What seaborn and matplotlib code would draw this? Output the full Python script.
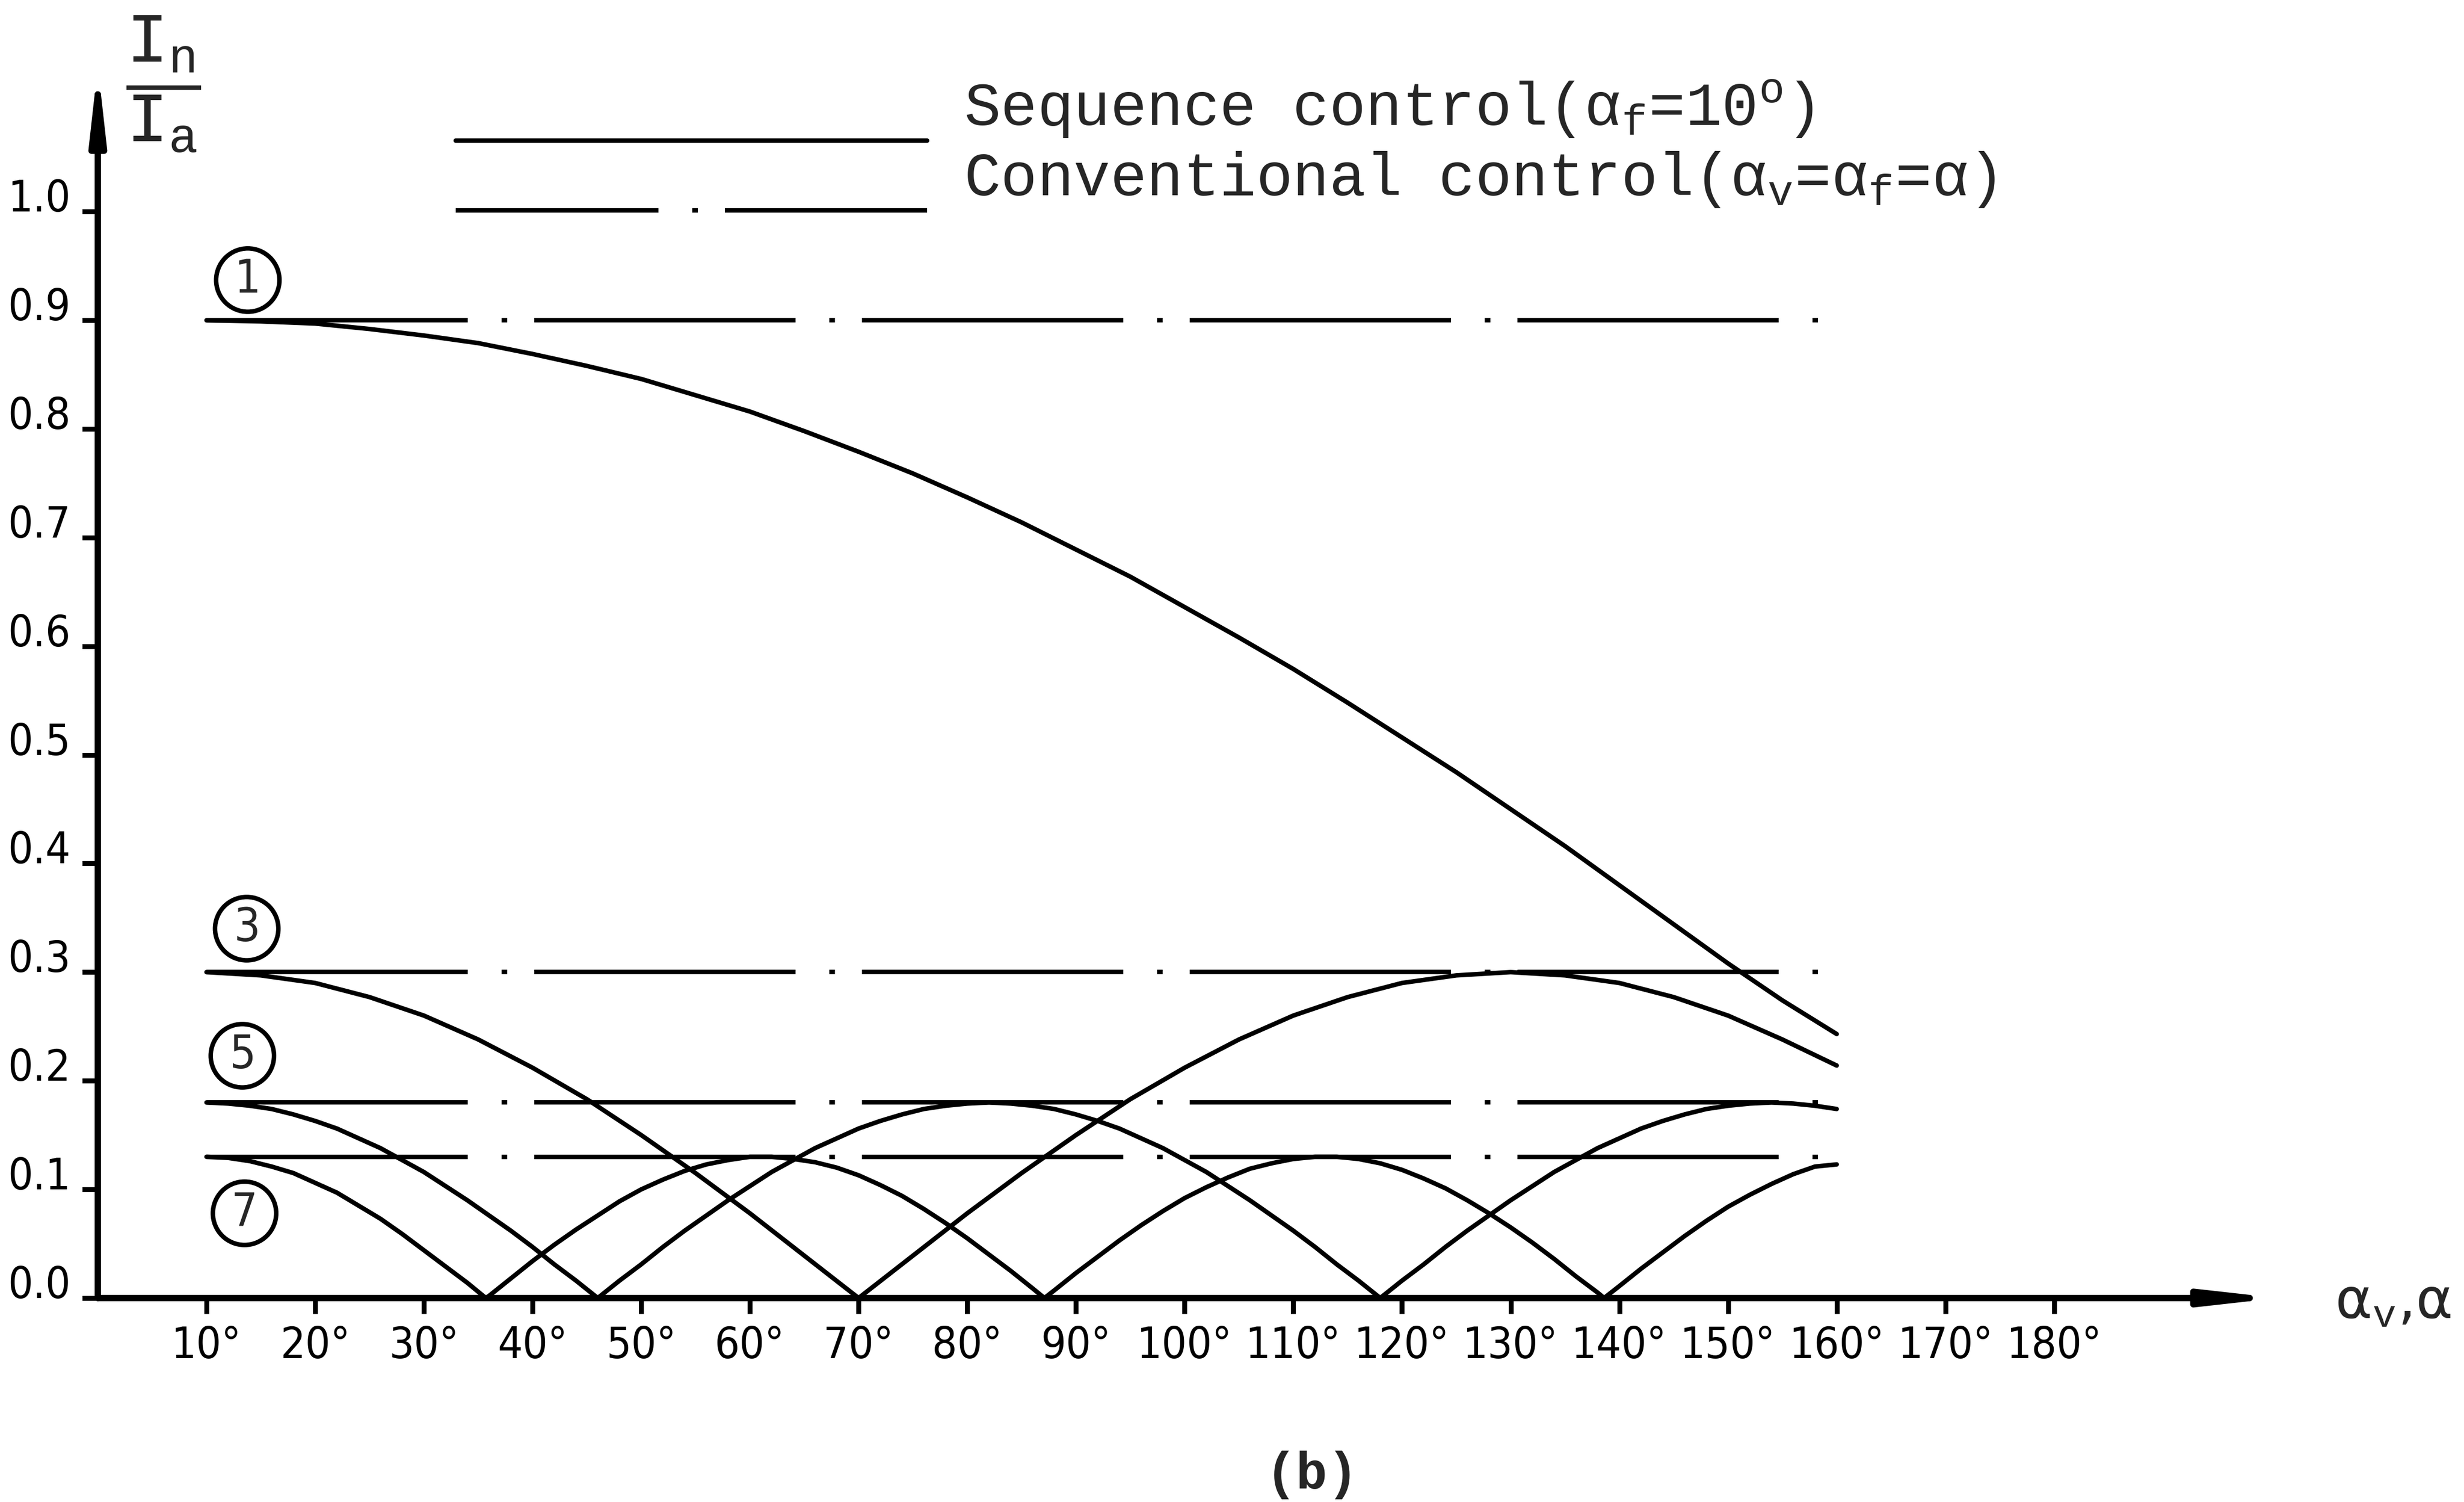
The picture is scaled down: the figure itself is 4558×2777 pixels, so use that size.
import matplotlib
matplotlib.use("Agg")
import matplotlib.pyplot as plt
import seaborn as sns
from matplotlib import font_manager as fm
from matplotlib.legend_handler import HandlerLine2D

# ---------------- data ----------------
alpha_5 = [10, 15, 20, 25, 30, 35, 40, 45, 50, 55, 60, 65, 70, 75, 80, 85, 90,
           95, 100, 105, 110, 115, 120, 125, 130, 135, 140, 145, 150, 155, 160]
seq_h1 = [0.900, 0.899, 0.897, 0.892, 0.886, 0.879, 0.869, 0.858, 0.846, 0.831,
          0.816, 0.798, 0.779, 0.759, 0.737, 0.714, 0.689, 0.664, 0.636, 0.608,
          0.579, 0.548, 0.516, 0.484, 0.450, 0.416, 0.380, 0.344, 0.308, 0.274,
          0.243]
seq_h3 = [0.300, 0.297, 0.290, 0.277, 0.260, 0.238, 0.212, 0.183, 0.150, 0.115,
          0.078, 0.039, 0.000, 0.039, 0.078, 0.115, 0.150, 0.183, 0.212, 0.238,
          0.260, 0.277, 0.290, 0.297, 0.300, 0.297, 0.290, 0.277, 0.260, 0.238,
          0.214]

alpha_2 = [10, 12, 14, 16, 18, 20, 22, 24, 26, 28, 30, 32, 34, 36, 38, 40, 42,
           44, 46, 48, 50, 52, 54, 56, 58, 60, 62, 64, 66, 68, 70, 72, 74, 76,
           78, 80, 82, 84, 86, 88, 90, 92, 94, 96, 98, 100, 102, 104, 106, 108,
           110, 112, 114, 116, 118, 120, 122, 124, 126, 128, 130, 132, 134, 136,
           138, 140, 142, 144, 146, 148, 150, 152, 154, 156, 158, 160]
seq_h5 = [0.180, 0.179, 0.177, 0.174, 0.169, 0.163, 0.156, 0.147, 0.138, 0.127,
          0.116, 0.103, 0.090, 0.076, 0.062, 0.047, 0.031, 0.016, 0.000,
          0.016, 0.031, 0.047, 0.062, 0.076, 0.090, 0.103, 0.116, 0.127, 0.138,
          0.147, 0.156, 0.163, 0.169, 0.174, 0.177, 0.179, 0.180,
          0.179, 0.177, 0.174, 0.169, 0.163, 0.156, 0.147, 0.138, 0.127, 0.116,
          0.103, 0.090, 0.076, 0.062, 0.047, 0.031, 0.016, 0.000,
          0.016, 0.031, 0.047, 0.062, 0.076, 0.090, 0.103, 0.116, 0.127, 0.138,
          0.147, 0.156, 0.163, 0.169, 0.174, 0.177, 0.179, 0.180,
          0.179, 0.177, 0.174]

alpha_7 = [10, 12, 14, 16, 18, 20, 22, 24, 26, 28, 30, 32, 34, 35.7, 36, 38, 40,
           42, 44, 46, 48, 50, 52, 54, 56, 58, 60, 62, 64, 66, 68, 70, 72, 74,
           76, 78, 80, 82, 84, 86, 87.1, 88, 90, 92, 94, 96, 98, 100, 102, 104,
           106, 108, 110, 112, 114, 116, 118, 120, 122, 124, 126, 128, 130, 132,
           134, 136, 138, 138.6, 140, 142, 144, 146, 148, 150, 152, 154, 156,
           158, 160]
seq_h7 = [0.130, 0.129, 0.126, 0.121, 0.115, 0.106, 0.097, 0.085, 0.073, 0.059,
          0.044, 0.029, 0.014, 0.000, 0.002, 0.018, 0.034, 0.049, 0.063, 0.076,
          0.089, 0.100, 0.109, 0.117, 0.123, 0.127, 0.130, 0.130, 0.128, 0.125,
          0.120, 0.113, 0.104, 0.094, 0.082, 0.069, 0.055, 0.040, 0.025, 0.009,
          0.000, 0.007, 0.023, 0.038, 0.053, 0.067, 0.080, 0.092, 0.102, 0.111,
          0.119, 0.124, 0.128, 0.130, 0.130, 0.128, 0.124, 0.118, 0.110, 0.101,
          0.090, 0.078, 0.065, 0.051, 0.036, 0.020, 0.005, 0.000, 0.011, 0.027,
          0.042, 0.057, 0.071, 0.084, 0.095, 0.105, 0.114, 0.121, 0.123]

conv_alpha = [10, 158.3]
conv_levels = [0.90, 0.30, 0.18, 0.13]

harmonic_labels = ["1", "3", "5", "7"]
harmonic_label_x = [13.8, 13.7, 13.3, 13.5]
harmonic_label_y = [0.937, 0.340, 0.223, 0.078]

x_ticks = [10, 20, 30, 40, 50, 60, 70, 80, 90, 100, 110, 120, 130, 140, 150,
           160, 170, 180]
x_tick_labels = [f"{t}°" for t in x_ticks]
y_ticks = [0.0, 0.1, 0.2, 0.3, 0.4, 0.5, 0.6, 0.7, 0.8, 0.9, 1.0]
y_tick_labels = [f"{t:.1f}" for t in y_ticks]

legend_labels = ["Sequence control(α$_\\mathrm{f}$=10$^\\mathrm{o}$)",
                 "Conventional control(α$_\\mathrm{v}$=α$_\\mathrm{f}$=α)"]
x_label = "α$_\\mathrm{v}$,α"
y_label = r"$\dfrac{\mathrm{I_n}}{\mathrm{I_a}}$"
caption = "(b)"

# ---------------- style ----------------
sns.set_style("white")
plt.rcParams["font.family"] = ["DejaVu Sans"]
plt.rcParams["lines.scale_dashes"] = False
plt.rcParams["mathtext.fontset"] = "custom"
plt.rcParams["mathtext.rm"] = "Liberation Mono"
plt.rcParams["mathtext.it"] = "Liberation Mono:italic"
plt.rcParams["mathtext.bf"] = "Liberation Mono:bold"

fonts = fm.fontManager.ttflist
narrow = [f for f in fonts
          if ("Narrow" in f.name or "Condensed" in f.name
              or str(f.stretch) in ("condensed", "semi-condensed", "extra-condensed"))
          and "Mono" not in f.name and f.style == "normal"]
if narrow:
    nf = narrow[0]
    tick_font = dict(family=nf.name, stretch=nf.stretch)
    TS = 19.5
else:
    tick_font = dict(family="Liberation Sans")
    TS = 18
MONO = "Liberation Mono"

LW = 2.0
AXLW = 2.8
DASH = (116, 15, 2.5, 12)
DASHDOT = (0, DASH)

W, H, DPI = 4558, 2777, 300
fig = plt.figure(figsize=(W / DPI, H / DPI), dpi=DPI)
ax = fig.add_axes([0.0397, 0.1358, 0.8848, 0.8202])

# sequence control curves
for xs, ys in [(alpha_5, seq_h1), (alpha_5, seq_h3), (alpha_2, seq_h5), (alpha_7, seq_h7)]:
    sns.lineplot(x=xs, y=ys, ax=ax, color="k", lw=LW, estimator=None, sort=False)
seq_line = ax.lines[0]

# conventional control (dash-dot horizontal lines)
for lev in conv_levels:
    sns.lineplot(x=conv_alpha, y=[lev] * len(conv_alpha), ax=ax, color="k",
                 lw=LW, linestyle=DASHDOT, estimator=None)
conv_line = ax.lines[-1]

ax.set_xlim(0, 200.6)
ax.set_ylim(0, 1.134)
for s in ax.spines.values():
    s.set_visible(False)

# axes with arrows
arrow = dict(arrowstyle="-|>,head_length=2.5,head_width=0.28", mutation_scale=10,
             lw=AXLW, color="k", shrinkA=0, shrinkB=0)
ax.annotate("", xy=(1, 0), xytext=(0, 0), xycoords="axes fraction",
            textcoords="axes fraction", arrowprops=arrow, annotation_clip=False)
ax.annotate("", xy=(0, 1), xytext=(0, 0), xycoords="axes fraction",
            textcoords="axes fraction", arrowprops=arrow, annotation_clip=False)

ax.set_xticks(x_ticks)
ax.set_xticklabels(x_tick_labels, fontsize=TS, **tick_font)
ax.set_yticks(y_ticks)
ax.set_yticklabels(y_tick_labels, fontsize=TS, **tick_font)
ax.tick_params(axis="both", direction="out", length=7, width=2.2, color="k",
               labelcolor="k")
ax.tick_params(axis="x", pad=5, bottom=True)
ax.tick_params(axis="y", pad=5, left=True)
ax.grid(False)

# circled harmonic numbers
for lab, lx, ly in zip(harmonic_labels, harmonic_label_x, harmonic_label_y):
    ax.text(lx, ly, lab, ha="center", va="center", fontsize=TS + 1, **tick_font,
            bbox=dict(boxstyle="circle,pad=0.2", fc="white", ec="k", lw=2.0))

# axis labels
ax.set_xlabel(x_label, fontsize=25, family="DejaVu Sans")
ax.xaxis.set_label_coords(1.026, -0.004)
ax.xaxis.label.set_ha("left")
ax.xaxis.label.set_va("center")
ax.set_ylabel(y_label, fontsize=31, family=MONO, rotation=0)
ax.yaxis.set_label_coords(0.030, 0.985)
ax.yaxis.label.set_ha("center")
ax.yaxis.label.set_va("center")


class LowLine(HandlerLine2D):
    def create_artists(self, legend, orig_handle, xdescent, ydescent, width,
                       height, fontsize, trans):
        arts = super().create_artists(legend, orig_handle, xdescent, ydescent,
                                      width, height, fontsize, trans)
        for a in arts:
            a.set_ydata([y - 0.6 * fontsize for y in a.get_ydata()])
            if a.get_linestyle() not in ("-", "solid"):
                a.set_linestyle((26.0, DASH))
        return arts


leg = ax.legend([seq_line, conv_line], legend_labels, loc="upper left",
                bbox_to_anchor=(0.185, 0.948), bbox_transform=fig.transFigure,
                frameon=False, handlelength=7.75, handletextpad=0.6,
                borderpad=0, borderaxespad=0, labelspacing=0.17,
                prop=dict(family=MONO, size=27),
                handler_map={seq_line: LowLine(), conv_line: LowLine()})

fig.text(0.5325, 0.018, caption, ha="center", va="center", fontsize=23,
         family=MONO, weight="bold")

for lab in ax.get_yticklabels():
    lab.set_va("baseline")

fig.savefig("out.png", dpi=DPI, facecolor="white")
